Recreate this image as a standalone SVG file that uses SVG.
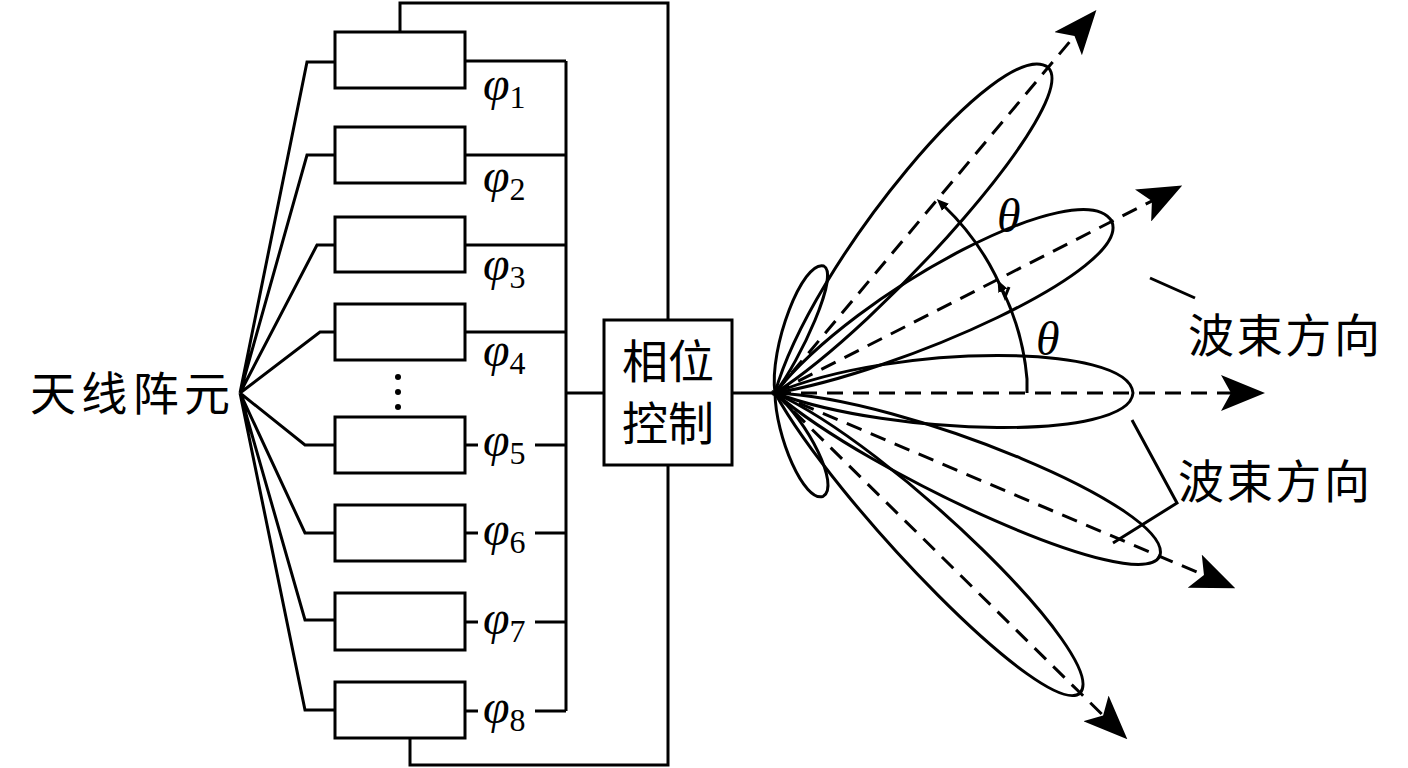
<svg xmlns="http://www.w3.org/2000/svg" width="1408" height="768" viewBox="0 0 1408 768">
<style>
.l{fill:none;stroke:#000;stroke-width:3}
.d{fill:none;stroke:#000;stroke-width:3;stroke-dasharray:16,10}
.b{fill:#fff;stroke:#000;stroke-width:3}
.cn{font-family:"Noto Sans CJK SC","Liberation Serif",serif;font-size:46px}
.p{font-family:"Liberation Serif",serif;font-style:italic;font-size:48px}
.s{font-family:"Liberation Serif",serif;font-size:32px;font-style:normal}
</style>
<defs>
<marker id="ah" markerWidth="12" markerHeight="10" refX="2" refY="5" orient="auto" markerUnits="userSpaceOnUse" viewBox="0 0 12 10"><path d="M0,0L12,5L0,10Z"/></marker>
<marker id="big" viewBox="0 0 44 36" refX="12" refY="18" markerWidth="44" markerHeight="36" orient="auto" markerUnits="userSpaceOnUse"><path d="M0,0L44,18L0,36L10,18Z"/></marker>
</defs>
<rect width="1408" height="768" fill="#fff"/>
<g id="connectors">
<path class="l" d="M240,393L307,62H335M240,393L307,155H335M240,393L317,245H335M240,393L320,332H335M240,393L305,445H335M240,393L305,533H335M240,393L305,620H335M240,393L305,710H335"/>
<path class="l" d="M465,61H566M465,155H566M465,245H566M465,332H566M465,445H478M535,445H566M465,533H478M535,533H566M465,622H478M535,622H566M465,711H478M535,711H566M566,61V711M566,393H604"/>
<path class="l" d="M400,32V3H668V320M410,738V765H668V465M732,393H775"/>
</g>
<g id="label-left"><text class="cn" x="30" y="410" textLength="200">天线阵元</text></g>
<g id="boxes">
<rect class="b" x="335" y="32" width="130" height="56"/>
<rect class="b" x="335" y="127" width="130" height="56"/>
<rect class="b" x="335" y="217" width="130" height="55"/>
<rect class="b" x="335" y="304" width="130" height="56"/>
<rect class="b" x="335" y="417" width="130" height="56"/>
<rect class="b" x="335" y="505" width="130" height="56"/>
<rect class="b" x="335" y="593" width="130" height="57"/>
<rect class="b" x="335" y="682" width="130" height="56"/>
<circle cx="398" cy="377" r="3"/><circle cx="398" cy="392" r="3"/><circle cx="398" cy="407" r="3"/>
</g>
<g id="phases">
<text class="p" x="483" y="100">φ<tspan class="s" dy="8">1</tspan></text>
<text class="p" x="483" y="192">φ<tspan class="s" dy="8">2</tspan></text>
<text class="p" x="483" y="280">φ<tspan class="s" dy="8">3</tspan></text>
<text class="p" x="483" y="366">φ<tspan class="s" dy="8">4</tspan></text>
<text class="p" x="483" y="456">φ<tspan class="s" dy="8">5</tspan></text>
<text class="p" x="483" y="545">φ<tspan class="s" dy="8">6</tspan></text>
<text class="p" x="483" y="634">φ<tspan class="s" dy="8">7</tspan></text>
<text class="p" x="483" y="723">φ<tspan class="s" dy="8">8</tspan></text>
</g>
<g id="phase-control">
<rect class="b" x="604" y="320" width="128" height="145"/>
<text class="cn" x="668" y="378" text-anchor="middle">相位</text>
<text class="cn" x="668" y="440" text-anchor="middle">控制</text>
</g>
<g id="beams" transform="translate(775,393)">
<g class="l">
<path transform="rotate(-50)" d="M0,0C120,-55 420,-58 425,0C420,48 120,38 0,0Z"/>
<path transform="rotate(-27)" d="M0,0C120,-55 374,-58 378,0C374,52 120,38 0,0Z"/>
<path d="M0,0C120,-50 354,-50 358,0C354,48 120,44 0,0Z"/>
<path transform="rotate(23)" d="M0,0C120,-46 414,-50 418,0C414,46 120,38 0,0Z"/>
<path transform="rotate(44.5)" d="M0,0C120,-44 424,-46 428,0C424,44 120,36 0,0Z"/>
<path transform="rotate(-69)" d="M0,0C40,-22 134,-22 136,0C134,18 40,12 0,0Z"/>
<path transform="rotate(65)" d="M0,0C40,-18 112,-20 114,0C112,20 40,18 0,0Z"/>
</g>
<g marker-end="url(#big)">
<path class="d" transform="rotate(-50)" d="M0,0H468"/>
<path class="d" transform="rotate(-27)" d="M0,0H425"/>
<path class="d" d="M0,0H458"/>
<path class="d" transform="rotate(23)" d="M0,0H468"/>
<path class="d" transform="rotate(44.5)" d="M0,0H462"/>
</g>
<path class="l" stroke-width="2.5" d="M252,0V-14A252,252 0 0 0 227,-104" marker-end="url(#ah)"/>
<path class="l" stroke-width="2.5" d="M234,-106L230,-96A255,255 0 0 0 169,-187" marker-end="url(#ah)"/>
</g>
<g id="angle-labels">
<text class="p" x="997" y="232" font-size="36">θ</text>
<text class="p" x="1036" y="355" font-size="36">θ</text>
</g>
<g id="beam-labels">
<path class="l" d="M1150,278L1195,298"/>
<text class="cn" x="1188" y="352" textLength="192">波束方向</text>
<path class="l" d="M1132,420L1177,503L1113,543"/>
<text class="cn" x="1178" y="498" textLength="192">波束方向</text>
</g>
</svg>
